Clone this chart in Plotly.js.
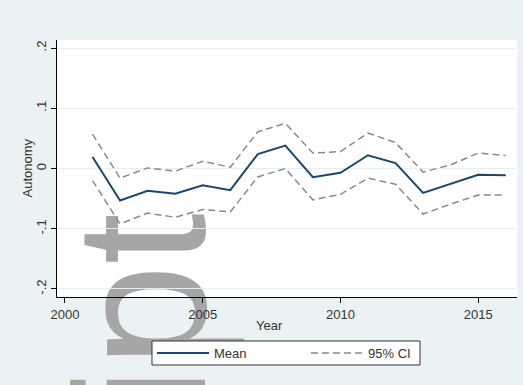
<!DOCTYPE html>
<html>
<head>
<meta charset="utf-8">
<script src="https://cdn.plot.ly/plotly-3.0.1.min.js"></script>
<style>
  html, body { margin: 0; padding: 0; background: #eaf2f3; }
  #chart { width: 523px; height: 385px; }
</style>
</head>
<body>
<div id="chart"></div>
<script>
// Yearly autonomy estimate with its 95% confidence band
const years = [2001, 2002, 2003, 2004, 2005, 2006, 2007, 2008, 2009, 2010, 2011, 2012, 2013, 2014, 2015, 2016];
const meanValues = [0.019, -0.053, -0.037, -0.042, -0.028, -0.036, 0.024, 0.038, -0.0145, -0.007, 0.022, 0.009, -0.0405, -0.026, -0.0105, -0.011];
const ciUpper = [0.057, -0.016, 0.001, -0.0045, 0.012, 0.002, 0.061, 0.075, 0.0256, 0.028, 0.059, 0.043, -0.006, 0.006, 0.0256, 0.0217];
const ciLower = [-0.020, -0.092, -0.074, -0.081, -0.068, -0.072, -0.014, 0.000, -0.052, -0.043, -0.016, -0.026, -0.0756, -0.059, -0.044, -0.044];

const yTickVals = [-0.2, -0.1, 0, 0.1, 0.2];
const yTickText = ['-.2', '-.1', '0', '.1', '.2'];
const xTickVals = [2000, 2005, 2010, 2015];
const xTickText = ['2000', '2005', '2010', '2015'];

const FONT = 'Liberation Sans, Arial, sans-serif';
const TEXT_COLOR = '#333333';
const ciLine = { color: '#8a8a8a', width: 1.5, dash: '7px,4px' };

const traces = [
  {
    x: years, y: meanValues, type: 'scatter', mode: 'lines', name: 'Mean',
    line: { color: '#1a476f', width: 2 }, legend: 'legend'
  },
  {
    x: years, y: ciUpper, type: 'scatter', mode: 'lines', name: '95% CI',
    line: ciLine, legendgroup: 'ci', legend: 'legend2'
  },
  {
    x: years, y: ciLower, type: 'scatter', mode: 'lines', name: '95% CI',
    line: ciLine, legendgroup: 'ci', showlegend: false, legend: 'legend2'
  }
];

const legendBase = {
  orientation: 'h',
  xanchor: 'left',
  y: -0.2179, yanchor: 'middle',
  bgcolor: 'rgba(0,0,0,0)', borderwidth: 0,
  font: { family: FONT, size: 13, color: TEXT_COLOR },
  itemwidth: 52
};

const layout = {
  width: 523, height: 385,
  margin: { l: 57, r: 6, t: 40, b: 88 },
  paper_bgcolor: '#eaf2f3',
  plot_bgcolor: '#ffffff',
  font: { family: FONT, size: 13, color: TEXT_COLOR },
  showlegend: true,
  xaxis: {
    range: [1999.71, 2016.41],
    tickvals: xTickVals, ticktext: xTickText,
    ticks: 'outside', ticklen: 5, tickcolor: '#000', tickwidth: 1,
    showline: true, linecolor: '#000', linewidth: 1,
    showgrid: false, zeroline: false,
    tickfont: { family: FONT, size: 13, color: TEXT_COLOR },
    automargin: false
  },
  yaxis: {
    range: [-0.2133, 0.2133],
    tickvals: yTickVals, ticktext: yTickText, tickangle: -90,
    ticks: 'outside', ticklen: 5, tickcolor: '#000', tickwidth: 1,
    showline: true, linecolor: '#000', linewidth: 1,
    showgrid: true, gridcolor: '#e6eef0', gridwidth: 1,
    zeroline: false,
    tickfont: { family: FONT, size: 13, color: TEXT_COLOR },
    automargin: false
  },
  legend: Object.assign({}, legendBase, { x: 0.2065 }),
  legend2: Object.assign({}, legendBase, { x: 0.5413 }),
  annotations: [
    {
      // x-axis title
      text: 'Year', xref: 'paper', yref: 'paper',
      x: 0.463, y: -0.1128, xanchor: 'center', yanchor: 'middle',
      showarrow: false, font: { family: FONT, size: 13, color: TEXT_COLOR }
    },
    {
      // y-axis title
      text: 'Autonomy', xref: 'paper', yref: 'paper', textangle: -90,
      x: -0.0652, y: 0.5, xanchor: 'center', yanchor: 'middle',
      showarrow: false, font: { family: FONT, size: 13, color: TEXT_COLOR }
    }
  ],
  shapes: [
    {
      // faint side watermark behind the plot
      type: 'rect', xref: 'paper', yref: 'paper', layer: 'below',
      x0: 0.1341, x1: 0.1541, y0: 0.3168, y1: 0.3368,
      line: { width: 0 }, fillcolor: 'rgba(0,0,0,0)',
      label: {
        text: 'Author Manuscript',
        textangle: -90,
        textposition: 'middle center',
        xanchor: 'right', yanchor: 'middle',
        padding: 0,
        font: { family: FONT, size: 185, color: '#a6a6a6' }
      }
    },
    {
      // frame around the two legend entries
      type: 'rect', xref: 'paper', yref: 'paper', layer: 'above',
      x0: 0.2065, x1: 0.7891, y0: -0.1712, y1: -0.2646,
      line: { color: '#333333', width: 1 }, fillcolor: '#ffffff'
    }
  ]
};

Plotly.newPlot('chart', traces, layout, { displayModeBar: false, staticPlot: true });
</script>
</body>
</html>
